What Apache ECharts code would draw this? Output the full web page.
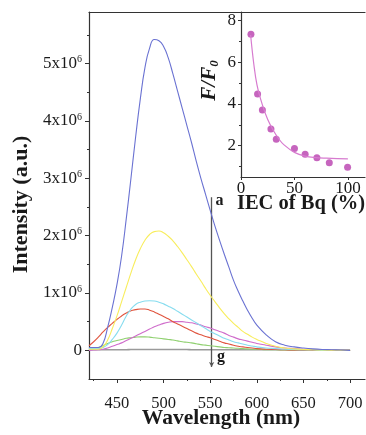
<!DOCTYPE html>
<html>
<head>
<meta charset="utf-8">
<script src="https://cdn.jsdelivr.net/npm/echarts@6/dist/echarts.min.js"></script>
<style>
html,body{margin:0;padding:0;background:#fff;}
#chart{width:366px;height:435px;}
</style>
</head>
<body>
<div id="chart"></div>
<script>
// Emission spectra, intensity in units of 10^6 a.u.
const wavelength = [420,425,430,435,440,445,450,455,460,465,470,475,480,485,490,495,500,505,510,515,520,525,530,535,540,545,550,555,560,565,570,575,580,585,590,595,600,610,620,630,640,650,660,670,680,690,700];
const specA = [0.05,0.05,0.05,0.12,0.40,0.75,1.15,1.65,2.30,3.00,3.72,4.38,4.93,5.27,5.42,5.40,5.30,5.10,4.82,4.52,4.22,3.92,3.62,3.30,3.00,2.72,2.44,2.17,1.92,1.68,1.45,1.22,1.03,0.86,0.70,0.56,0.44,0.27,0.15,0.09,0.06,0.04,0.025,0.015,0.01,0.005,0.0];
const specB = [0.02,0.02,0.02,0.06,0.18,0.38,0.60,0.85,1.10,1.35,1.58,1.77,1.92,2.02,2.07,2.08,2.05,1.99,1.91,1.81,1.70,1.58,1.46,1.33,1.21,1.08,0.96,0.85,0.74,0.64,0.55,0.47,0.40,0.33,0.28,0.23,0.19,0.12,0.07,0.04,0.025,0.015,0.01,0.005,0.0,0.0,0.0];
const specC = [0.03,0.03,0.03,0.05,0.10,0.19,0.30,0.44,0.60,0.72,0.80,0.84,0.86,0.865,0.86,0.84,0.81,0.77,0.73,0.68,0.63,0.58,0.53,0.48,0.43,0.38,0.33,0.29,0.25,0.21,0.18,0.15,0.13,0.11,0.09,0.075,0.06,0.04,0.03,0.02,0.015,0.01,0.005,0.0,0.0,0.0,0.0];
const specD = [0.08,0.15,0.23,0.32,0.40,0.47,0.54,0.60,0.65,0.69,0.71,0.72,0.72,0.70,0.67,0.63,0.59,0.55,0.50,0.46,0.42,0.38,0.34,0.30,0.27,0.24,0.22,0.19,0.16,0.13,0.11,0.09,0.07,0.06,0.05,0.04,0.03,0.02,0.015,0.01,0.005,0.005,0.0,0.0,0.0,0.0,0.0];
const specE = [0.0,0.005,0.01,0.02,0.04,0.07,0.10,0.13,0.17,0.21,0.25,0.29,0.33,0.37,0.41,0.44,0.47,0.49,0.50,0.50,0.50,0.49,0.48,0.46,0.44,0.41,0.39,0.36,0.33,0.30,0.26,0.23,0.20,0.18,0.16,0.14,0.12,0.09,0.06,0.04,0.03,0.02,0.015,0.01,0.005,0.0,0.0];
const specF = [0.03,0.04,0.05,0.08,0.12,0.15,0.17,0.19,0.21,0.22,0.23,0.235,0.235,0.23,0.22,0.21,0.20,0.19,0.18,0.165,0.15,0.14,0.13,0.115,0.10,0.09,0.08,0.07,0.06,0.05,0.045,0.04,0.035,0.03,0.025,0.02,0.02,0.01,0.01,0.005,0.005,0.005,0.0,0.0,0.0,0.0,0.0];
const specG = [0.01,0.01,0.01,0.01,0.01,0.01,0.01,0.01,0.01,0.015,0.015,0.015,0.015,0.015,0.015,0.015,0.015,0.015,0.015,0.015,0.015,0.015,0.01,0.01,0.01,0.01,0.01,0.01,0.01,0.01,0.01,0.01,0.01,0.01,0.01,0.01,0.01,0.01,0.01,0.01,0.005,0.005,0.005,0.005,0.005,0.005,0.005];
const spectrumColors = ['#6a72d2','#f8ed5c','#86dcef','#e0553f','#cf6ccb','#8fd06f','#9a9a9a'];

const xMajorTicks = [450,500,550,600,650,700];
const xMinorTicks = [425,475,525,575,625,675];
const yMajorTicks = [0,1,2,3,4,5];
const yMinorTicks = [0.5,1.5,2.5,3.5,4.5,5.5];

// Inset: F/F0 versus IEC of Bq (%)
const iecPercent = [9.3,15.5,20,28,33,50,60,71,82.6,99.7];
const ratioFF0 = [7.33,4.47,3.71,2.80,2.31,1.86,1.59,1.42,1.18,0.97];
const fitIec = [9,12,15,20,25,30,35,40,50,60,70,80,90,100];
const fitRatio = [7.3,5.9,4.9,3.95,3.25,2.75,2.35,2.05,1.68,1.50,1.43,1.40,1.38,1.37];
const insetXTicks = [0,50,100];
const insetYMajor = [2,4,6,8];
const insetYMinor = [1,3,5,7];

const SERIF = 'Liberation Serif';
const INK = '#1a1a1a';
const AXIS = '#333';

const spectra = [specA,specB,specC,specD,specE,specF,specG];
const lineSeries = spectra.map((s,k) => ({
  type:'line', xAxisIndex:0, yAxisIndex:0, symbol:'none', smooth:0.5,
  data: wavelength.map((w,i)=>[w,s[i]]),
  lineStyle:{color:spectrumColors[k], width: k===6 ? 1.6 : 1.1},
  z: 10 - k
}));

// arrow a -> g with its end labels
lineSeries.push({
  type:'line', xAxisIndex:0, yAxisIndex:0, data:[], silent:true,
  markLine:{
    silent:true, symbol:['none','arrow'], symbolSize:[4,5],
    lineStyle:{color:'#555', width:1.3, type:'solid'},
    label:{show:false},
    data:[[{coord:[551.5,2.67]},{coord:[551.5,-0.29]}]]
  },
  markPoint:{
    silent:true, symbolSize:0,
    label:{show:true, fontFamily:SERIF, fontWeight:'bold', fontSize:16, color:INK},
    data:[
      {coord:[560,2.60], value:'a', label:{formatter:'a'}},
      {coord:[561.5,-0.12], value:'g', label:{formatter:'g'}}
    ]
  }
});

const option = {
  backgroundColor:'#fff',
  animation:false,
  grid:[
    {left:89, top:12, right:1, bottom:56, outerBoundsMode:'none', containLabel:false},
    {left:241, top:12, right:1, bottom:258, outerBoundsMode:'none', containLabel:false}
  ],
  xAxis:[
    {gridIndex:0, type:'value', min:420, max:716, position:'bottom',
     axisLine:{show:true, onZero:false, lineStyle:{color:AXIS, width:1.2}},
     axisTick:{show:true, inside:false, length:4, lineStyle:{color:AXIS}, customValues:xMajorTicks},
     axisLabel:{customValues:xMajorTicks, fontFamily:SERIF, fontSize:16.5, color:INK, margin:16},
     splitLine:{show:false},
     name:'Wavelength (nm)', nameLocation:'middle', nameGap:28, nameMoveOverlap:false,
     nameTextStyle:{fontFamily:SERIF, fontWeight:'bold', fontSize:21.5, color:INK, padding:[0,12,0,0]}},
    {gridIndex:0, type:'value', min:420, max:716, position:'bottom',
     axisLine:{show:false, onZero:false}, axisLabel:{show:false}, splitLine:{show:false},
     axisTick:{show:true, length:2, lineStyle:{color:AXIS}, customValues:xMinorTicks}},
    {gridIndex:0, type:'value', min:420, max:716, position:'top',
     axisLine:{show:true, onZero:false, lineStyle:{color:AXIS, width:1.2}}, axisLabel:{show:false},
     axisTick:{show:false}, splitLine:{show:false}},
    {gridIndex:1, type:'value', min:0, max:116, position:'bottom',
     axisLine:{show:true, onZero:false, lineStyle:{color:AXIS, width:1.2}},
     axisTick:{show:true, length:3, lineStyle:{color:AXIS}, customValues:insetXTicks},
     axisLabel:{customValues:insetXTicks, fontFamily:SERIF, fontSize:17, color:INK, margin:3},
     splitLine:{show:false},
     name:'IEC of Bq (%)', nameLocation:'middle', nameGap:16, nameMoveOverlap:false,
     nameTextStyle:{fontFamily:SERIF, fontWeight:'bold', fontSize:20.5, color:INK, padding:[0,4,0,0]}}
  ],
  yAxis:[
    {gridIndex:0, type:'value', min:-0.5, max:5.9, position:'left',
     axisLine:{show:true, onZero:false, lineStyle:{color:AXIS, width:1.2}},
     axisTick:{show:true, length:4, lineStyle:{color:AXIS}, customValues:yMajorTicks},
     axisLabel:{customValues:yMajorTicks, margin:7, color:INK,
       formatter: v => v === 0 ? '{b|0}' : '{b|' + v + 'x10}{s|6}',
       rich:{b:{fontFamily:SERIF, fontSize:17, color:INK},
             s:{fontFamily:SERIF, fontSize:10, color:INK, padding:[0,0,8,0]}}},
     splitLine:{show:false},
     name:'Intensity (a.u.)', nameLocation:'middle', nameGap:56, nameRotate:90,
     nameTextStyle:{fontFamily:SERIF, fontWeight:'bold', fontSize:22, color:INK, padding:[0,18,0,0]}},
    {gridIndex:0, type:'value', min:-0.5, max:5.9, position:'left',
     axisLine:{show:false, onZero:false}, axisLabel:{show:false}, splitLine:{show:false},
     axisTick:{show:true, length:2, lineStyle:{color:AXIS}, customValues:yMinorTicks}},
    {gridIndex:1, type:'value', min:0.5, max:8.4, position:'left',
     axisLine:{show:true, onZero:false, lineStyle:{color:AXIS, width:1.2}},
     axisTick:{show:true, length:3, lineStyle:{color:AXIS}, customValues:insetYMajor},
     axisLabel:{customValues:insetYMajor, fontFamily:SERIF, fontSize:17, color:INK, margin:5},
     splitLine:{show:false},
     name:'{i|F/F}{sub|0}', nameLocation:'middle', nameGap:20, nameRotate:90,
     nameTextStyle:{padding:[0,0,0,28], rich:{
       i:{fontFamily:SERIF, fontStyle:'italic', fontWeight:'bold', fontSize:21, color:INK},
       sub:{fontFamily:SERIF, fontStyle:'italic', fontWeight:'bold', fontSize:13, color:INK, padding:[9,0,0,0]}}}},
    {gridIndex:1, type:'value', min:0.5, max:8.4, position:'left',
     axisLine:{show:false, onZero:false}, axisLabel:{show:false}, splitLine:{show:false},
     axisTick:{show:true, length:2, lineStyle:{color:AXIS}, customValues:insetYMinor}}
  ],
  series: lineSeries.concat([
    {type:'line', xAxisIndex:3, yAxisIndex:2, symbol:'none', smooth:0.4,
     data: fitIec.map((x,i)=>[x,fitRatio[i]]),
     lineStyle:{color:'#d77bcf', width:1.2}},
    {type:'scatter', xAxisIndex:3, yAxisIndex:2, symbolSize:7,
     data: iecPercent.map((x,i)=>[x,ratioFF0[i]]),
     itemStyle:{color:'#b83fae'}}
  ])
};

const chart = echarts.init(document.getElementById('chart'), null, {renderer:'canvas'});
chart.setOption(option);
</script>
</body>
</html>
